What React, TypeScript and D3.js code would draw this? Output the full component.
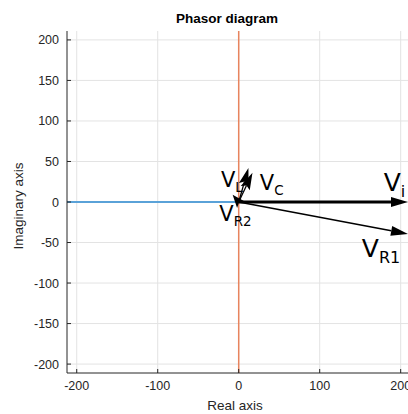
import React from "react";
import * as d3 from "d3";

const xTicks = [-200, -100, 0, 100, 200];
const yTicks = [-200, -150, -100, -50, 0, 50, 100, 150, 200];
const realAxisLine = [[-212, 0], [0, 0]];
const imagAxisLine = [[0, -212], [0, 212]];

// phasors: name, subscript, end point (re, im)
const phasorNames = ["V", "V", "V", "V", "V"];
const phasorSubs = ["i", "R1", "L", "C", "R2"];
const phasorRe = [209, 209, 12, 17, -7.5];
const phasorIm = [0, -39.5, 42, 36, 9];
const phasorWidth = [3, 1.5, 1.3, 1.3, 1.2];
const labelRe = [179, 152, -22, 26, -24];
const labelIm = [14, -68, 18, 15, -23];
const labelSize = [25, 25, 21, 21, 21];

const W = 408;
const H = 414;
const left = 67;
const right = 410;
const top = 31;
const bottom = 373;

export default function App() {
  const x = d3.scaleLinear().domain([-212, 211.5]).range([left, right]);
  const y = d3.scaleLinear().domain([-211, 211]).range([bottom, top]);
  const line = d3.line<number[]>().x((d) => x(d[0])).y((d) => y(d[1]));
  const font = "'Liberation Sans', Arial, sans-serif";

  const arrow = (i: number) => {
    const x0 = x(0), y0 = y(0);
    const x1 = x(phasorRe[i]), y1 = y(phasorIm[i]);
    const ang = Math.atan2(y1 - y0, x1 - x0);
    const len = i < 2 ? 17 : i === 4 ? 13 : 17;
    const half = i < 2 ? 5 : 5;
    const notch = i < 2 ? 0 : 3;
    const bx = x1 - len * Math.cos(ang), by = y1 - len * Math.sin(ang);
    const nx = x1 - (len - notch) * Math.cos(ang), ny = y1 - (len - notch) * Math.sin(ang);
    const px = -Math.sin(ang), py = Math.cos(ang);
    const pts = [
      [x1, y1],
      [bx + half * px, by + half * py],
      [nx, ny],
      [bx - half * px, by - half * py],
    ];
    const lineEnd = Math.hypot(x1 - x0, y1 - y0) > len ? [nx, ny] : [x0, y0];
    return (
      <g key={i}>
        <line x1={x0} y1={y0} x2={lineEnd[0]} y2={lineEnd[1]} stroke="#000" strokeWidth={phasorWidth[i]} />
        <polygon points={pts.map((p) => p.join(",")).join(" ")} fill="#000" />
      </g>
    );
  };

  return (
    <svg width={W} height={H} style={{ position: "absolute", left: 0, top: 0 }}>
      <rect width={W} height={H} fill="#fff" />
      <defs>
        <clipPath id="plot">
          <rect x={left} y={top} width={right - left} height={bottom - top} />
        </clipPath>
      </defs>
      {xTicks.map((t) => (
        <line key={"gx" + t} x1={x(t)} x2={x(t)} y1={top} y2={bottom} stroke="#e3e3e3" strokeWidth={1} />
      ))}
      {yTicks.map((t) => (
        <line key={"gy" + t} x1={left} x2={right} y1={y(t)} y2={y(t)} stroke="#e3e3e3" strokeWidth={1} />
      ))}
      <g clipPath="url(#plot)">
        <path d={line(realAxisLine as any) || ""} stroke="#5aa2d8" strokeWidth={2} fill="none" />
        <path d={line(imagAxisLine as any) || ""} stroke="#e8845e" strokeWidth={1.5} fill="none" />
        {phasorRe.map((_, i) => arrow(i))}
      </g>
      {phasorNames.map((n, i) => (
        <text
          key={"l" + i}
          x={x(labelRe[i])}
          y={y(labelIm[i])}
          fontFamily="'DejaVu Sans', sans-serif"
          fontSize={labelSize[i]}
          fill="#000"
        >
          {n}
          <tspan fontSize={labelSize[i] * 0.64} dy={labelSize[i] * 0.24}>
            {phasorSubs[i]}
          </tspan>
        </text>
      ))}
      {/* axes */}
      <line x1={left} x2={left} y1={top} y2={bottom} stroke="#262626" strokeWidth={1} />
      <line x1={left} x2={W} y1={bottom} y2={bottom} stroke="#262626" strokeWidth={1} />
      {xTicks.map((t) => (
        <g key={"xt" + t}>
          <line x1={x(t)} x2={x(t)} y1={bottom} y2={bottom - 4} stroke="#262626" />
          <text x={x(t)} y={bottom + 17} textAnchor="middle" fontFamily={font} fontSize={12.5} fill="#262626">
            {t}
          </text>
        </g>
      ))}
      {yTicks.map((t) => (
        <g key={"yt" + t}>
          <line x1={left} x2={left + 4} y1={y(t)} y2={y(t)} stroke="#262626" />
          <text x={left - 8} y={y(t) + 4.5} textAnchor="end" fontFamily={font} fontSize={12.5} fill="#262626">
            {t}
          </text>
        </g>
      ))}
      <text x={227} y={23} textAnchor="middle" fontFamily={font} fontSize={13.5} fontWeight="bold" fill="#000">
        Phasor diagram
      </text>
      <text x={235} y={410} textAnchor="middle" fontFamily={font} fontSize={13.5} fill="#262626">
        Real axis
      </text>
      <text
        transform={`translate(23,${(top + bottom) / 2 + 4}) rotate(-90)`}
        textAnchor="middle"
        fontFamily={font}
        fontSize={13.5}
        fill="#262626"
      >
        Imaginary axis
      </text>
    </svg>
  );
}
